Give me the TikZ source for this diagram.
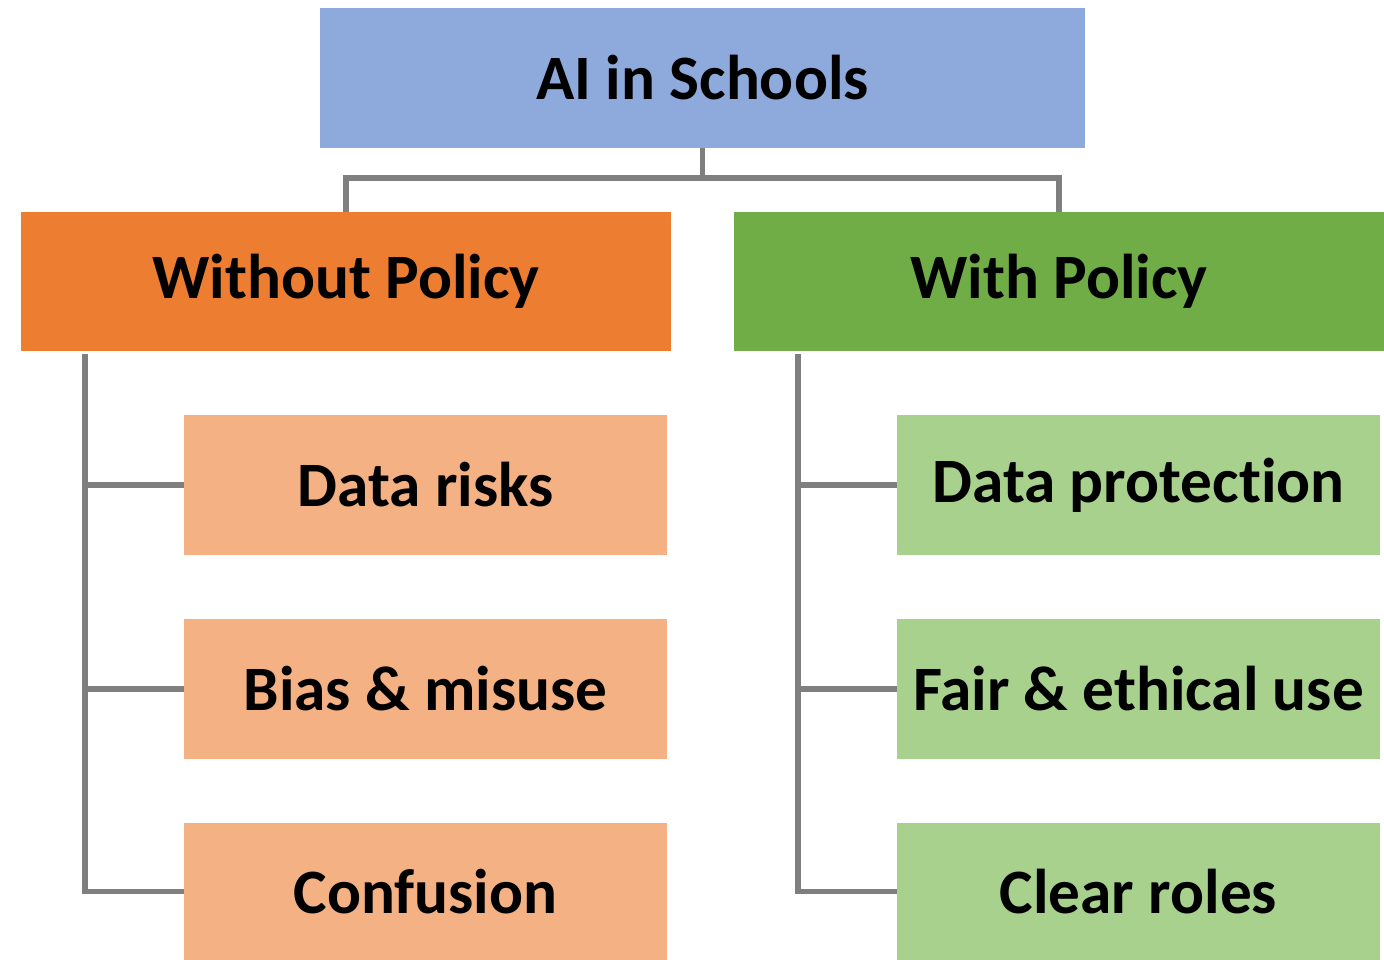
\documentclass[tikz,border=0pt]{standalone}
\usepackage{fontspec}
\setmainfont[Ligatures=NoCommon]{Carlito}
\usepackage{tikz}
\usetikzlibrary{calc}
\definecolor{rootblue}{HTML}{8EA9DB}
\definecolor{badorange}{HTML}{ED7D31}
\definecolor{badlight}{HTML}{F4B183}
\definecolor{goodgreen}{HTML}{70AD47}
\definecolor{goodlight}{HTML}{A9D18E}
\definecolor{linkgray}{HTML}{7F7F7F}
\tikzset{
  box/.style={inner sep=0pt, font=\fontsize{36}{42}\selectfont\bfseries},
  headbox/.style={box, minimum width=13cm, minimum height=2.78cm},
  leafbox/.style={box, minimum width=9.66cm, minimum height=2.8cm},
  link/.style={linkgray, line width=3.4pt}
}

\begin{document}
\begin{tikzpicture}[x=0.02cm, y=-0.02cm]
\useasboundingbox (0,0) rectangle (1384,960);
\node[box, fill=rootblue, minimum width=15.3cm, minimum height=2.8cm] (root) at (702.5,78) {AI in Schools};
\node[headbox, fill=badorange] (without) at (346,281.5) {Without Policy};
\node[headbox, fill=goodgreen] (with) at (1059,281.5) {With Policy};
% leaves
\node[leafbox, fill=badlight] (datarisk) at (425.5,485) {Data risks};
\node[leafbox, fill=badlight] (bias) at (425.5,689) {Bias \& misuse};
\node[leafbox, fill=badlight, minimum height=2.74cm] (confusion) at (425.5,891.5) {Confusion};
\node[leafbox, fill=goodlight] (protect) at (1138.5,485) {Data protection};
\node[leafbox, fill=goodlight] (fair) at (1138.5,689) {Fair \& ethical use};
\node[leafbox, fill=goodlight, minimum height=2.74cm] (roles) at (1138.5,891.5) {Clear roles};
% connectors
\coordinate (split) at (702.5,178);
\coordinate (lspine) at (85,354);
\coordinate (rspine) at (798,354);
\draw[link] (root.south) -- (split);
\draw[link] (split) -| (without.north);
\draw[link] (split) -| (with.north);
\draw[link] (lspine) |- (datarisk.west);
\draw[link] (lspine) |- (bias.west);
\draw[link] (lspine) |- (confusion.west);
\draw[link] (rspine) |- (protect.west);
\draw[link] (rspine) |- (fair.west);
\draw[link] (rspine) |- (roles.west);
\end{tikzpicture}
\end{document}
